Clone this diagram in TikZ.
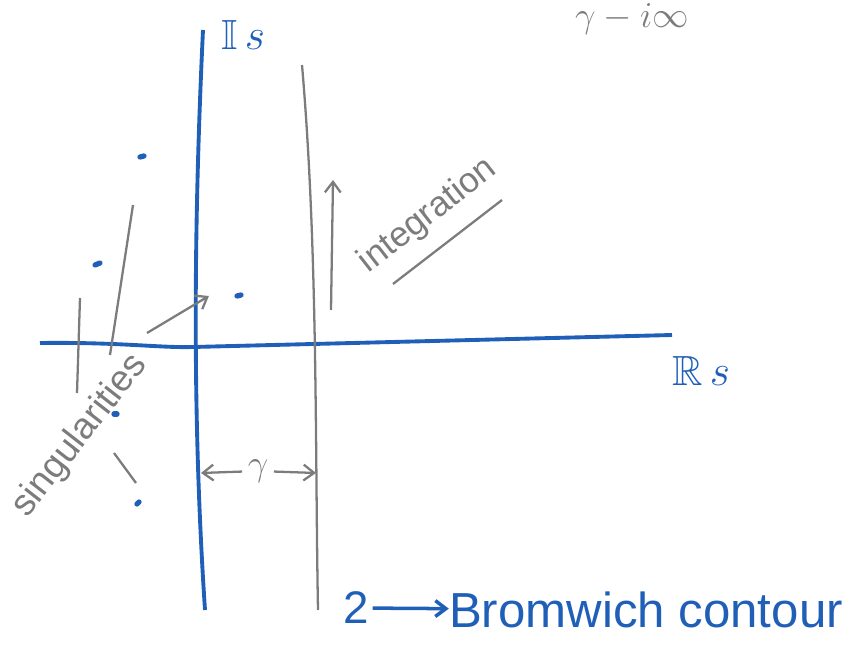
\documentclass[tikz,border=0pt]{standalone}
\usepackage{amssymb}
\usepackage{fontspec}
\setmainfont{Liberation Sans}
\usetikzlibrary{arrows.meta}
\definecolor{penblue}{HTML}{1F5FB8}
\definecolor{pengray}{HTML}{7C7C7C}
\begin{document}
\begin{tikzpicture}[x=0.02cm,y=-0.02cm,
  >={Straight Barb[length=6pt,width=9pt]},
  axis/.style={draw=penblue,line width=2.2pt},
  pencil/.style={draw=pengray,line width=1.3pt},
  dot/.style={draw=penblue,line width=3pt,line cap=round},
  note/.style={text=pengray,inner sep=0pt}]
\useasboundingbox (0,0) rectangle (849,645);
\coordinate (imtop) at (203,30);
\coordinate (imbot) at (205,610);
\coordinate (releft) at (40,343);
\coordinate (reright) at (672,335);
\draw[axis] (imtop) .. controls (195,200) and (191,400) .. (imbot);
\draw[axis] (releft) .. controls (120,342) and (160,348) .. (193,347) -- (reright);
\node[text=penblue,inner sep=0pt] (imlabel) at (243,35) {\fontsize{24}{26}\selectfont$\mathbb{I}\,s$};
\node[text=penblue,inner sep=0pt] (relabel) at (701,371) {\fontsize{24}{26}\selectfont$\mathbb{R}\,s$};
% contour
\coordinate (ctop) at (302,65);
\coordinate (cbot) at (318,610);
\draw[pencil] (ctop) .. controls (318,250) and (315,450) .. (cbot);
\coordinate (upfoot) at (331,310);
\coordinate (uphead) at (333,180);
\draw[pencil,->] (upfoot) -- (uphead);
\node[note,rotate=38] (integ) at (428,216) {\fontsize{20}{22}\selectfont integration};
\coordinate (ulA) at (393,284);
\coordinate (ulB) at (502,200);
\draw[pencil] (ulA) -- (ulB);
% singularities
\coordinate (p1) at (140,157);
\coordinate (p2) at (95,265);
\coordinate (p3) at (237,296);
\coordinate (p4) at (114,414);
\coordinate (p5) at (137,504);
\draw[dot] (p1) -- ++(4,-1);
\draw[dot] (p2) -- ++(5,-2);
\draw[dot] (p3) -- ++(4,-1);
\draw[dot] (p4) -- ++(3,0);
\draw[dot] (p5) -- ++(2,-2);
\coordinate (gA) at (80,298);
\coordinate (gB) at (77,393);
\coordinate (gC) at (133,205);
\coordinate (gD) at (110,355);
\coordinate (gE) at (114,453);
\coordinate (gF) at (136,483);
\coordinate (tail) at (147,333);
\draw[pencil] (gA) -- (gB);
\draw[pencil] (gC) -- (gD);
\draw[pencil] (gE) -- (gF);
\draw[pencil,->] (tail) -- ([xshift=-16] p3);
\node[note,rotate=52] (sing) at (80,436) {\fontsize{21}{23}\selectfont singularities};
% gamma
\coordinate (gl) at (201,473);
\coordinate (gr) at (316,473);
\node[note,inner sep=3pt] (gam) at (258,471) {\fontsize{20}{22}\selectfont$\gamma$};
\draw[pencil,->] (gam) -- (gl);
\draw[pencil,->] (gam) -- (gr);
\node[note] (gtop) at (632,19) {\fontsize{22}{24}\selectfont$\gamma - i\infty$};
% label
\node[text=penblue,inner sep=2pt] (two) at (356,608) {\fontsize{26}{28}\selectfont 2};
\node[text=penblue,inner sep=0pt] (brom) at (646,610) {\fontsize{28}{30}\selectfont Bromwich contour};
\draw[draw=penblue,line width=2pt,->] (two) -- (brom);
\end{tikzpicture}
\end{document}
